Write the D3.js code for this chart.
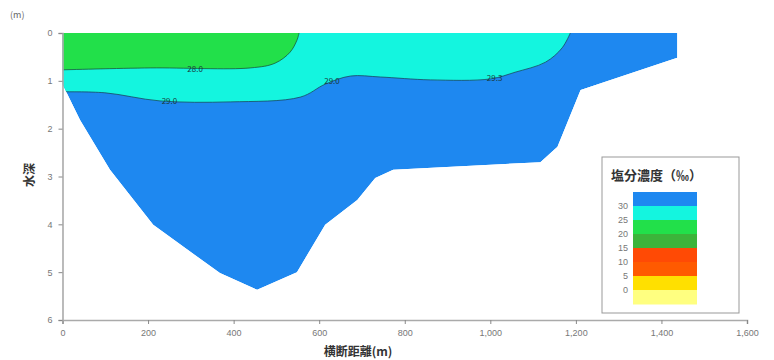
<!DOCTYPE html>
<html><head><meta charset="utf-8">
<script src="https://cdn.jsdelivr.net/npm/d3@7"></script>
<style>body{margin:0;background:#fff;}svg{display:block;font-family:"Noto Sans CJK JP","Noto Sans",sans-serif;}</style>
</head><body><svg id="c" width="774" height="360"></svg>
<script>
// River bed profile: distance (m) and depth (m)
const bedDistance = [0, 41, 111, 212, 368, 455, 548, 614, 689, 731, 773, 1117, 1157, 1211, 1437];
const bedDepth    = [1.07, 1.82, 2.86, 4.01, 5.02, 5.37, 5.0, 4.01, 3.49, 3.03, 2.86, 2.70, 2.38, 1.19, 0.52];
// contour between green and cyan
const c1Distance = [0, 205, 439, 497, 532, 548, 553];
const c1Depth    = [0.77, 0.73, 0.73, 0.63, 0.40, 0.15, 0];
// contour between cyan and blue
const c2Distance = [0, 99, 228, 392, 556, 614, 673, 743, 860, 1000, 1058, 1129, 1168, 1187];
const c2Depth    = [1.23, 1.25, 1.42, 1.44, 1.34, 1.07, 0.90, 0.92, 0.98, 0.96, 0.82, 0.61, 0.31, 0];
// contour labels
const labelText     = ["28.0", "29.0", "29.0", "29.3"];
const labelDistance = [310, 250, 630, 1010];
const labelDepth    = [0.76, 1.42, 1.0, 0.94];
// legend
const legendValues = [30, 25, 20, 15, 10, 5, 0];
const legendColors = ["#1e88f0", "#14f5df", "#22e04a", "#3cb43a", "#ff4a05", "#ff5a00", "#ffe000", "#ffff80"];
const xTicks = [0, 200, 400, 600, 800, 1000, 1200, 1400, 1600];
const yTicks = [0, 1, 2, 3, 4, 5, 6];

const svg = d3.select("#c");
const x = d3.scaleLinear().domain([0, 1600]).range([62.5, 747]);
const y = d3.scaleLinear().domain([0, 6]).range([33, 320]);

// section polygon
const bed = bedDistance.map((d, i) => [d, bedDepth[i]]);
const section = [[0, 0], [bedDistance[bedDistance.length - 1], 0]].concat(bed.slice().reverse());
const lin = d3.line().x(d => x(d[0])).y(d => y(d[1]));
svg.append("clipPath").attr("id", "sec").append("path").attr("d", lin(section) + "Z");

const g = svg.append("g").attr("clip-path", "url(#sec)");
g.append("path").attr("d", lin(section) + "Z").attr("fill", legendColors[0]);

const c2 = c2Distance.map((d, i) => [d, c2Depth[i]]);
const c1 = c1Distance.map((d, i) => [d, c1Depth[i]]);
const smooth = d3.line().x(d => x(d[0])).y(d => y(d[1])).curve(d3.curveCatmullRom.alpha(0.5));

g.append("path").attr("d", smooth(c2) + "L" + x(0) + "," + y(0) + "Z").attr("fill", legendColors[1]);
g.append("path").attr("d", smooth(c1) + "L" + x(0) + "," + y(0) + "Z").attr("fill", legendColors[2]);
g.append("path").attr("d", smooth(c2)).attr("fill", "none").attr("stroke", "#1a4a60").attr("stroke-width", 0.8);
g.append("path").attr("d", smooth(c1)).attr("fill", "none").attr("stroke", "#1a5a40").attr("stroke-width", 0.8);

labelText.forEach((t, i) => {
  g.append("text").attr("x", x(labelDistance[i])).attr("y", y(labelDepth[i]) + 3)
    .attr("text-anchor", "middle").attr("font-size", 8).attr("fill", "#1a3a40").text(t);
});

// axes
const axisColor = "#aaaaaa";
const xa = svg.append("g").attr("transform", "translate(0,320)")
  .call(d3.axisBottom(x).tickValues(xTicks).tickSize(4).tickPadding(6).tickFormat(d3.format(",")));
const ya = svg.append("g").attr("transform", "translate(62.5,0)")
  .call(d3.axisLeft(y).tickValues(yTicks).tickSize(4).tickPadding(6).tickFormat(d3.format("d")));
[xa, ya].forEach(a => {
  a.select(".domain").attr("stroke", axisColor).attr("stroke-width", 1.6);
  a.selectAll(".tick line").attr("stroke", "#888");
  a.selectAll(".tick text").attr("fill", "#777").attr("font-size", 9).attr("font-family", "Liberation Sans, Arial, sans-serif");
});

svg.append("text").attr("x", 10).attr("y", 18).attr("font-size", 9).attr("fill", "#666").text("(m)");
svg.append("text").attr("transform", "translate(34,175) rotate(-90)").attr("text-anchor", "middle")
  .attr("font-size", 12).attr("font-weight", "bold").attr("fill", "#333").text("水深");
svg.append("text").attr("x", 358).attr("y", 356).attr("text-anchor", "middle")
  .attr("font-size", 12).attr("font-weight", "bold").attr("fill", "#333").text("横断距離(m)");

// legend
const lg = svg.append("g");
lg.append("rect").attr("x", 602).attr("y", 157).attr("width", 137).attr("height", 156)
  .attr("fill", "#fff").attr("stroke", "#999").attr("stroke-width", 1);
lg.append("text").attr("x", 611).attr("y", 180).attr("font-size", 13).attr("font-weight", "bold").attr("fill", "#333").text("塩分濃度（‰）");
const bandH = 14, top0 = 192;
legendColors.forEach((c, i) => {
  lg.append("rect").attr("x", 633).attr("y", top0 + i * bandH).attr("width", 64).attr("height", bandH + 0.5).attr("fill", c);
});
legendValues.forEach((v, i) => {
  lg.append("text").attr("x", 628).attr("y", top0 + (i + 1) * bandH + 3).attr("text-anchor", "end")
    .attr("font-size", 9).attr("fill", "#777").attr("font-family", "Liberation Sans, Arial, sans-serif").text(v);
});
</script></body></html>
